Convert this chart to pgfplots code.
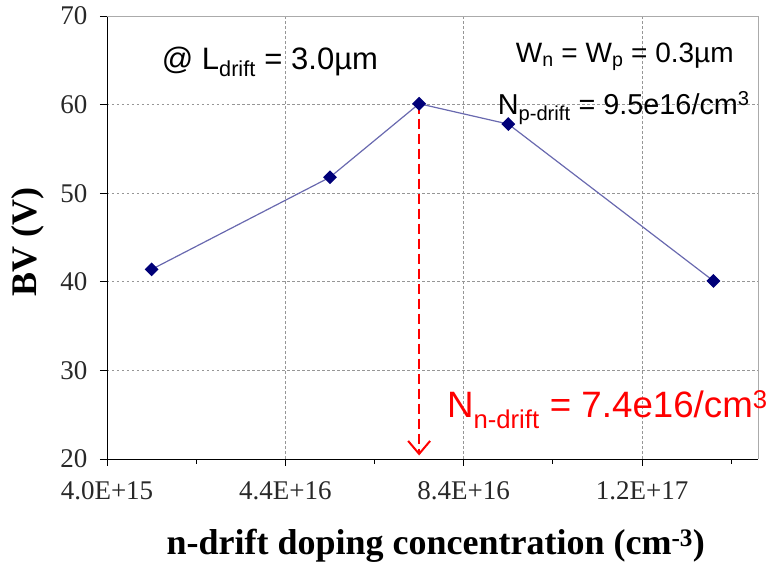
\documentclass[border=0pt]{standalone}
\usepackage{fontspec}
\setmainfont{Liberation Serif}
\newfontfamily\arial{Liberation Sans}
\usepackage{pgfplots}
\pgfplotsset{compat=1.18}
\usetikzlibrary{arrows.meta}

\definecolor{linecol}{RGB}{105,105,175}
\definecolor{markcol}{RGB}{0,0,120}
\definecolor{gridcol}{RGB}{150,150,150}
\definecolor{tickcol}{RGB}{40,40,40}

\begin{document}
\begin{tikzpicture}
\begin{axis}[
  name=ax,
  scale only axis,
  width=651bp, height=443bp,
  xmin=4e15, xmax=1.5e17,
  ymin=20, ymax=70,
  scaled x ticks=false,
  xtick={4e15,4.4e16,8.4e16,1.24e17},
  xticklabels={4.0E+15,4.4E+16,8.4E+16,1.2E+17},
  minor xtick={2.4e16,6.4e16,1.04e17,1.44e17},
  ytick={20,30,40,50,60,70},
  /pgf/number format/assume math mode=true,
  axis lines*=left,
  axis line style={black, line width=0.9bp},
  tick align=outside,
  major tick length=7bp,
  minor tick length=5bp,
  tick style={black, line width=0.9bp},
  grid=major,
  major grid style={gridcol, dash pattern=on 2.5bp off 2.5bp, line width=0.7bp},
  tick label style={font=\fontsize{27bp}{30bp}\selectfont, text=tickcol},
  yticklabel style={xshift=-9bp},
  xticklabel style={yshift=-12bp},
  xlabel={\textbf{n-drift doping concentration (cm\textsuperscript{-3})}},
  ylabel={\textbf{BV (V)}},
  label style={font=\fontsize{36bp}{40bp}\selectfont},
  xlabel style={at={(axis description cs:0.505,-0.2167)}, anchor=base},
  ylabel style={at={(axis description cs:-0.121,0.49)}, anchor=center},
  clip=false,
]
\addplot[linecol, line width=1.2bp, mark=square*, mark size=4.3bp,
  mark options={rotate=45, fill=markcol, draw=markcol, solid}]
  coordinates {(1.4e16,41.4) (5.4e16,51.8) (7.4e16,60.1) (9.4e16,57.8) (1.4e17,40.1)};
\addplot[red, line width=2bp, dash pattern=on 10bp off 5bp,
  -{Straight Barb[length=13bp, width=22bp, line width=2bp]}]
  coordinates {(7.4e16,60.1) (7.4e16,20.4)};
\draw[gridcol!80, line width=0.9bp] (rel axis cs:0,1) -- (rel axis cs:1,1) -- (rel axis cs:1,0);
\node[anchor=base west, inner sep=0pt, font=\arial\fontsize{31bp}{34bp}\selectfont]
  at (rel axis cs:0.084,0.88) {@ L\textsubscript{drift} = 3.0µm};
\node[anchor=base east, inner sep=0pt, font=\arial\fontsize{28bp}{32bp}\selectfont]
  at (rel axis cs:0.963,0.894) {W\textsubscript{n} = W\textsubscript{p} = 0.3µm};
\node[anchor=base west, inner sep=0pt, font=\arial\fontsize{28.8bp}{32bp}\selectfont]
  at (rel axis cs:0.60,0.777) {N\textsubscript{p-drift} = 9.5e16/cm\textsuperscript{3}};
\node[anchor=base west, inner sep=0pt, text=red, font=\arial\fontsize{36.7bp}{40bp}\selectfont]
  at (rel axis cs:0.522,0.0926) {N\textsubscript{n-drift} = 7.4e16/cm\textsuperscript{3}};
\end{axis}
\path ([shift={(-107bp,-103bp)}]ax.south west) rectangle ([shift={(21bp,16bp)}]ax.north east);
\end{tikzpicture}
\end{document}
